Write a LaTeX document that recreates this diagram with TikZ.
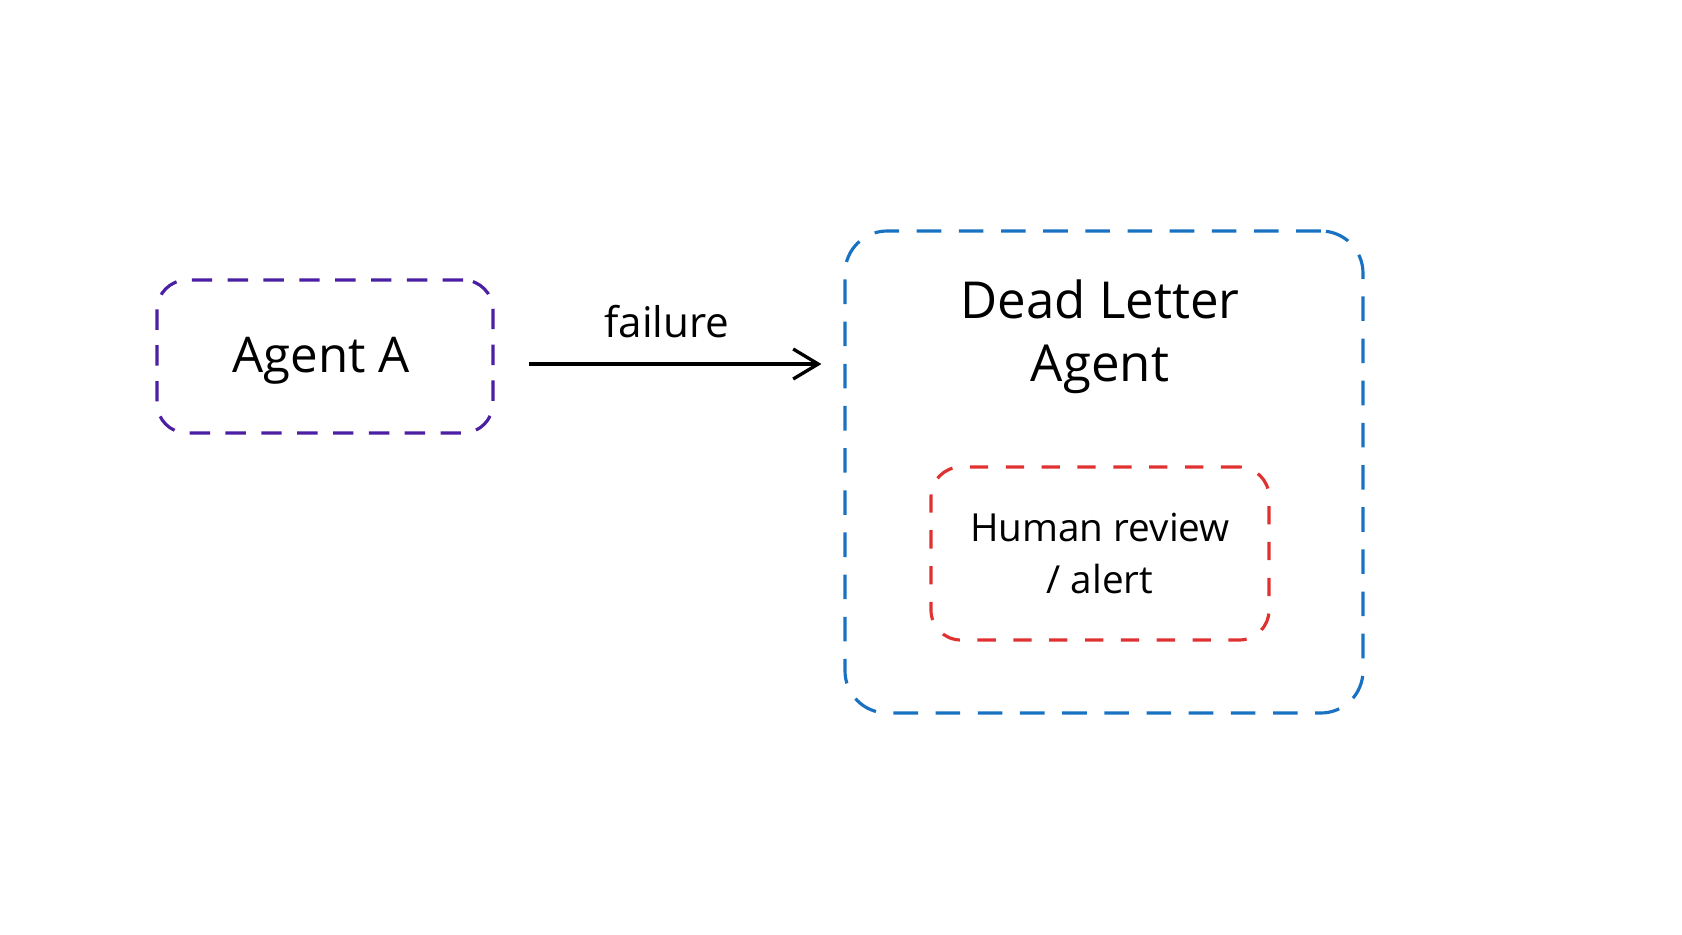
\documentclass[tikz,border=0pt]{standalone}
\usepackage{fontspec}
\setmainfont{Open Sans}
\usetikzlibrary{arrows.meta,positioning}
\definecolor{agentviolet}{HTML}{4A1FA3}
\definecolor{dlqblue}{HTML}{1971C2}
\definecolor{alertred}{HTML}{E03131}
\tikzset{
  dashbox/.style   = {draw, rounded corners=8.5pt, line width=0.9pt,
                      dash pattern=on 5.8pt off 4.4pt, inner sep=0pt},
  flow/.style      = {-{Straight Barb[length=2.5mm,width=3mm]}, line width=0.95pt},
  boxlabel/.style  = {align=center, inner sep=0pt},
}
\begin{document}
\begin{tikzpicture}
  \useasboundingbox (0,0) rectangle (16.82,-9.35);
  % sender
  \node[dashbox, agentviolet, minimum width=3.36cm, minimum height=1.53cm]
        (agent) at (3.25,-3.565) {};
  \node[boxlabel, font=\fontsize{14}{16}\selectfont] (agentlbl)
        at ([xshift=-0.4mm,yshift=-0.4mm]agent.center) {Agent A};
  % dead letter agent
  \node[dashbox, dlqblue, rounded corners=12pt, dash pattern=on 7pt off 5pt,
        minimum width=5.18cm, minimum height=4.82cm] (dla) at (11.04,-4.72) {};
  \node[boxlabel, font=\fontsize{14.5}{18}\selectfont] (dlalbl) at (11.0,-3.37)
        {Dead Letter\\Agent};
  \node[dashbox, alertred, dash pattern=on 5.2pt off 5pt,
        minimum width=3.38cm, minimum height=1.73cm] (review) at (11.0,-5.535) {};
  \node[boxlabel, font=\fontsize{11}{15}\selectfont] (reviewlbl) at (review)
        {Human review\\/ alert};
  % failure path
  \coordinate (src) at ([xshift=3.4mm,yshift=-0.75mm]agent.east);
  \coordinate (dst) at ([xshift=-2.2mm]src -| dla.west);
  \draw[flow] (src) -- (dst);
  \node[anchor=base, inner sep=0pt, font=\fontsize{12}{14}\selectfont] (faillbl)
        at (6.67,-3.37) {failure};
\end{tikzpicture}
\end{document}
